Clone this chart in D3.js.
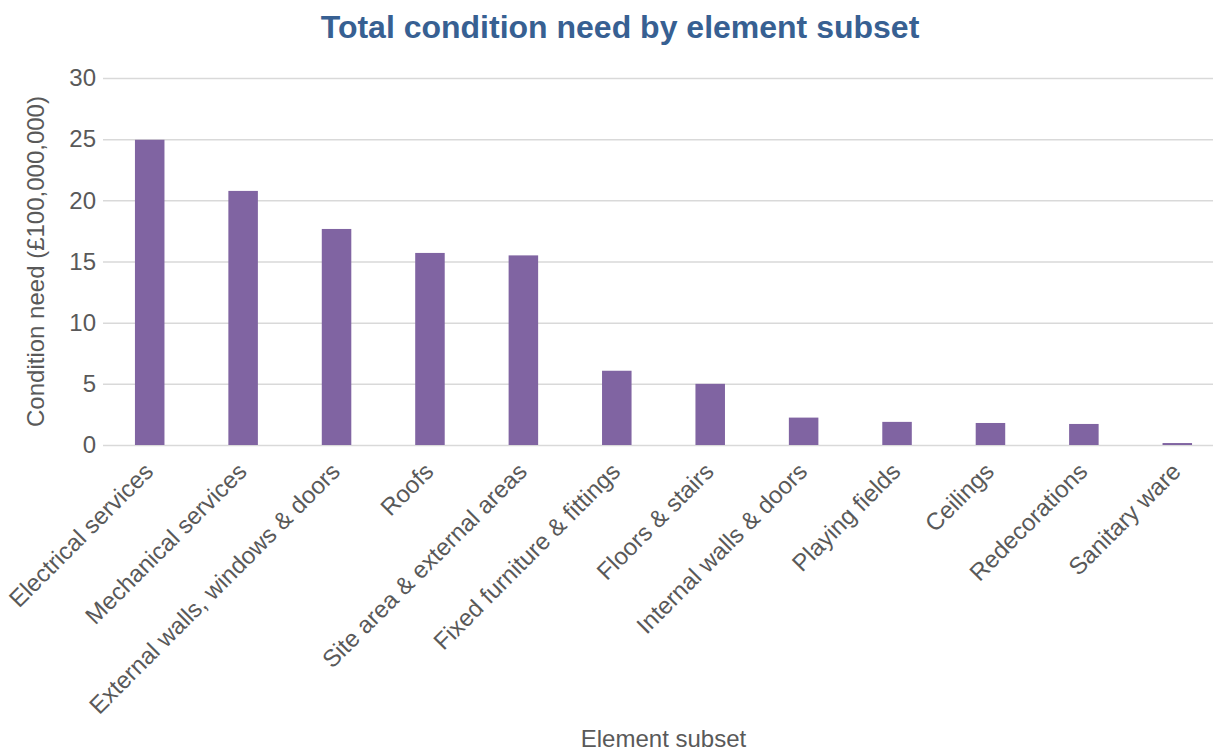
<!DOCTYPE html>
<html>
<head>
<meta charset="utf-8">
<script src="https://cdn.jsdelivr.net/npm/d3@7/dist/d3.min.js"></script>
<style>
  html, body { margin: 0; padding: 0; background: #fff; overflow: hidden; }
  svg { display: block; font-family: "Liberation Sans", Arial, sans-serif; }
</style>
</head>
<body>
<svg id="chart" width="1213" height="753"></svg>
<script>
// Condition need per element subset, in units of £100,000,000
const categories = [
  "Electrical services",
  "Mechanical services",
  "External walls, windows & doors",
  "Roofs",
  "Site area & external areas",
  "Fixed furniture & fittings",
  "Floors & stairs",
  "Internal walls & doors",
  "Playing fields",
  "Ceilings",
  "Redecorations",
  "Sanitary ware"
];
const values = [24.95, 20.77, 17.66, 15.7, 15.5, 6.07, 5.0, 2.24, 1.89, 1.8, 1.72, 0.16];
const yTicks = [0, 5, 10, 15, 20, 25, 30];

const svg = d3.select("#chart");
const plot = { left: 103, right: 1224, top: 78, bottom: 445 };
const textColor = "#595959";

const x = d3.scaleBand()
  .domain(categories)
  .range([plot.left, plot.right])
  .paddingInner(0.684)
  .paddingOuter(0.342);

const y = d3.scaleLinear()
  .domain([0, 30])
  .range([plot.bottom, plot.top]);

// Title
svg.append("text")
  .attr("x", 620)
  .attr("y", 38)
  .attr("text-anchor", "middle")
  .attr("font-size", 32)
  .attr("font-weight", "bold")
  .attr("fill", "#376092")
  .text("Total condition need by element subset");

// Horizontal gridlines and y tick labels
const yAxis = d3.axisLeft(y)
  .tickValues(yTicks)
  .tickSize(-(plot.right - plot.left))
  .tickPadding(7)
  .tickFormat(d3.format("d"));

const gy = svg.append("g")
  .attr("transform", `translate(${plot.left},0)`)
  .call(yAxis);
gy.select(".domain").remove();
gy.selectAll(".tick line")
  .attr("stroke", "#d9d9d9")
  .attr("stroke-width", 1.5);
gy.selectAll(".tick text")
  .attr("font-size", 24)
  .attr("fill", textColor)
  .attr("font-family", "Liberation Sans, Arial, sans-serif");

// Bars
svg.append("g")
  .selectAll("rect")
  .data(values)
  .join("rect")
  .attr("x", (d, i) => x(categories[i]))
  .attr("y", d => y(d))
  .attr("width", x.bandwidth())
  .attr("height", d => y(0) - y(d))
  .attr("fill", "#8064a2");

// Category labels, rotated
const gx = svg.append("g")
  .attr("transform", `translate(0,${plot.bottom})`)
  .call(d3.axisBottom(x).tickSize(0).tickPadding(0));
gx.select(".domain").remove();
gx.selectAll(".tick text")
  .attr("font-size", 24)
  .attr("fill", textColor)
  .attr("font-family", "Liberation Sans, Arial, sans-serif")
  .attr("text-anchor", "end")
  .attr("dy", null)
  .attr("y", 0)
  .attr("transform", "translate(5,28) rotate(-45)");

// Axis titles
svg.append("text")
  .attr("transform", `translate(44,${(plot.top + plot.bottom) / 2}) rotate(-90)`)
  .attr("text-anchor", "middle")
  .attr("font-size", 24)
  .attr("fill", textColor)
  .text("Condition need (£100,000,000)");

svg.append("text")
  .attr("x", (plot.left + plot.right) / 2)
  .attr("y", 747)
  .attr("text-anchor", "middle")
  .attr("font-size", 24)
  .attr("fill", textColor)
  .text("Element subset");
</script>
</body>
</html>
